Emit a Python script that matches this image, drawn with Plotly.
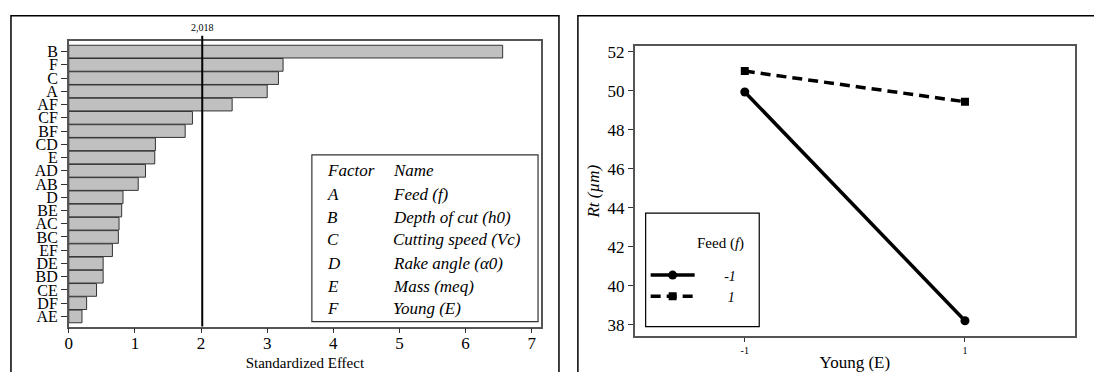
import plotly.graph_objects as go

# ---------------- data ----------------
terms = ["B", "F", "C", "A", "AF", "CF", "BF", "CD", "E", "AD", "AB",
         "D", "BE", "AC", "BC", "EF", "DE", "BD", "CE", "DF", "AE"]
effects = [6.56, 3.24, 3.17, 3.00, 2.47, 1.87, 1.76, 1.31, 1.30, 1.16, 1.05,
           0.82, 0.80, 0.76, 0.75, 0.66, 0.52, 0.52, 0.42, 0.27, 0.20]
ref_value = 2.018
ref_label = "2,018"

factor_codes = ["A", "B", "C", "D", "E", "F"]
factor_names = ["Feed (f)", "Depth of cut (h0)", "Cutting speed (Vc)",
                "Rake angle (α0)", "Mass (meq)", "Young (E)"]

young_levels = [-1, 1]
rt_feed_minus = [49.93, 38.2]
rt_feed_plus = [51.0, 49.43]
feed_labels = ["-1", "1"]

# ---------------- layout helpers ----------------
W, H = 1094, 372
FONT = "Liberation Serif, Times New Roman, serif"


def px(x):
    return x / W


def py(y):
    return 1 - y / H


fig = go.Figure()

# Pareto bars
fig.add_trace(go.Bar(
    x=effects, y=terms, orientation="h",
    marker=dict(color="#c0c0c0", line=dict(color="#333333", width=1)),
    showlegend=False, xaxis="x", yaxis="y"))

# Interaction lines
fig.add_trace(go.Scatter(
    x=young_levels, y=rt_feed_minus,
    name="&nbsp;" * 7 + "<i>" + feed_labels[0] + "</i>",
    mode="lines+markers", line=dict(color="black", width=3.5),
    marker=dict(symbol="circle", size=9, color="black"),
    xaxis="x2", yaxis="y2"))
fig.add_trace(go.Scatter(
    x=young_levels, y=rt_feed_plus,
    name="&nbsp;" * 8 + "<i>" + feed_labels[1] + "</i>",
    mode="lines+markers", line=dict(color="black", width=3.5, dash="10px,6px"),
    marker=dict(symbol="square", size=8, color="black"),
    xaxis="x2", yaxis="y2"))

axis_line = dict(showline=True, linecolor="#555555", linewidth=1.5, mirror=True,
                 showgrid=False, zeroline=False, ticks="outside",
                 tickcolor="#333333")

fig.update_layout(
    width=W, height=H, autosize=False,
    margin=dict(l=0, r=0, t=0, b=0),
    paper_bgcolor="white", plot_bgcolor="white",
    font=dict(family=FONT, color="black"),
    bargap=0.04,
    xaxis=dict(domain=[px(65), px(539)], range=[0, 7.14], dtick=1,
               tickfont=dict(size=17), ticklen=5, ticklabelstandoff=-5,
               title=dict(text="Standardized Effect", font=dict(size=15), standoff=6),
               anchor="y", **axis_line),
    yaxis=dict(domain=[py(327), py(37)], type="category",
               categoryorder="array", categoryarray=terms,
               tickmode="array", tickvals=terms, ticktext=terms,
               range=[len(terms) - 1 + 0.77, -0.84],
               tickfont=dict(size=16), ticklen=6, anchor="x", **axis_line),
    xaxis2=dict(domain=[px(633), px(1075)], range=[-2, 2],
                tickvals=young_levels, ticktext=["-1", "1"],
                tickfont=dict(size=10), ticklen=4,
                title=dict(text="Young (E)", font=dict(size=17), standoff=4),
                anchor="y2", **axis_line),
    yaxis2=dict(domain=[py(336.7), py(42.7)], range=[37.41, 52.28], dtick=2,
                tickfont=dict(size=17), ticklen=5,
                title=dict(text="<i>Rt (µm)</i>", font=dict(size=17), standoff=4),
                anchor="x2", **axis_line),
    legend=dict(x=px(644), y=py(259), xanchor="left", yanchor="top",
                bgcolor="rgba(0,0,0,0)", borderwidth=0,
                font=dict(size=14), itemwidth=44, tracegroupgap=0),
)

shapes = [
    # outer panel frames
    dict(type="rect", xref="paper", yref="paper", x0=px(7), x1=px(557),
         y0=py(380), y1=py(12), line=dict(color="black", width=1.5)),
    dict(type="rect", xref="paper", yref="paper", x0=px(576), x1=px(1100),
         y0=py(380), y1=py(12), line=dict(color="black", width=1.5)),
    # reference line
    dict(type="line", xref="x", yref="y domain", x0=ref_value, x1=ref_value,
         y0=0, y1=1.017, line=dict(color="black", width=2)),
    # factor table box
    dict(type="rect", xref="paper", yref="paper", x0=px(309), x1=px(536),
         y0=py(322), y1=py(153), line=dict(color="#333333", width=1.2),
         fillcolor="white", layer="above"),
    # legend box
    dict(type="rect", xref="paper", yref="paper", x0=px(644), x1=px(758),
         y0=py(327), y1=py(212), line=dict(color="black", width=1.2)),
]
fig.update_layout(shapes=shapes)

ann = [dict(x=ref_value, xref="x", y=1.02, yref="y domain", text=ref_label,
            showarrow=False, yanchor="bottom", font=dict(size=10)),
       dict(x=px(694), y=py(243), xref="paper", yref="paper",
            text="Feed (<i>f</i>)", showarrow=False, xanchor="left",
            yanchor="middle", font=dict(size=15))]
rows_y = [169, 193, 216, 239, 263, 286, 309]
ann.append(dict(x=px(322), y=py(rows_y[0]), xref="paper", yref="paper",
                text="<i>Factor</i>", showarrow=False, xanchor="left",
                yanchor="middle", font=dict(size=17)))
ann.append(dict(x=px(388), y=py(rows_y[0]), xref="paper", yref="paper",
                text="<i>Name</i>", showarrow=False, xanchor="left",
                yanchor="middle", font=dict(size=17)))
for code, name, yy in zip(factor_codes, factor_names, rows_y[1:]):
    ann.append(dict(x=px(322), y=py(yy), xref="paper", yref="paper",
                    text="<i>" + code + "</i>", showarrow=False, xanchor="left",
                    yanchor="middle", font=dict(size=17)))
    ann.append(dict(x=px(388), y=py(yy), xref="paper", yref="paper",
                    text="<i>" + name + "</i>", showarrow=False, xanchor="left",
                    yanchor="middle", font=dict(size=17)))
fig.update_layout(annotations=ann)

fig.write_html("out.html",
               config={"displayModeBar": False},
               post_script="document.body.style.margin='0px';"
                           "document.body.style.overflow='hidden';")
